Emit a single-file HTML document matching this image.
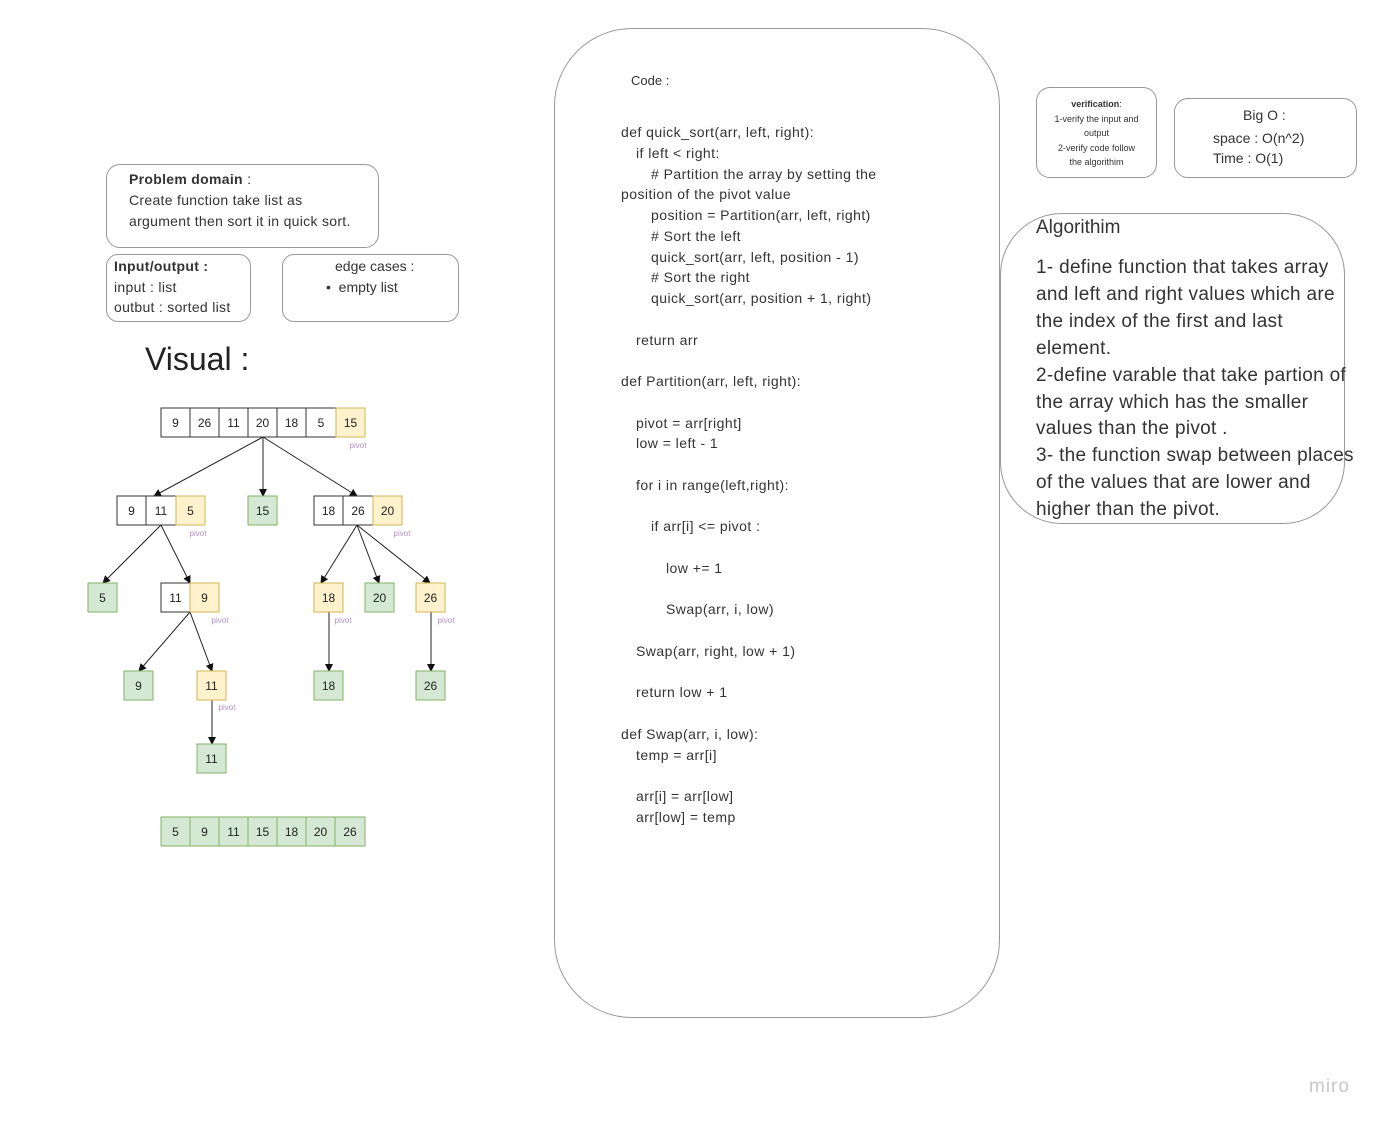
<!DOCTYPE html>
<html><head><meta charset="utf-8"><style>
body{margin:0;width:1385px;height:1127px;background:#fff;position:relative;overflow:hidden;font-family:"Liberation Sans","DejaVu Sans",sans-serif;color:#333}
.b{position:absolute;border:1px solid #999;box-sizing:border-box}
.t{position:absolute;white-space:nowrap}
.code div{height:20.75px;line-height:20.75px;white-space:nowrap;font-size:14px;color:#333;letter-spacing:0.45px}
.i1{padding-left:15px}.i2{padding-left:30px}.i3{padding-left:45px}
</style></head><body>

<div class="b" style="left:106px;top:164px;width:273px;height:84px;border-radius:14px"></div>
<div class="t" style="left:129px;top:169px;font-size:14px;line-height:21px;letter-spacing:0.3px"><b>Problem domain</b> :<br>Create function take list as<br>argument then sort it in quick sort.</div>

<div class="b" style="left:106px;top:254px;width:145px;height:68px;border-radius:12px"></div>
<div class="t" style="left:114px;top:256px;font-size:14px;line-height:20.5px;letter-spacing:0.3px"><b>Input/output :</b><br>input : list<br>outbut : sorted list</div>

<div class="b" style="left:282px;top:254px;width:177px;height:68px;border-radius:12px"></div>
<div class="t" style="left:335px;top:256px;font-size:14px;line-height:20.5px">edge cases :</div>
<div class="t" style="left:326px;top:277px;font-size:14px;line-height:20.5px">•&nbsp;&nbsp;empty list</div>

<div class="t" style="left:145px;top:339px;font-size:32px;line-height:40px;color:#222">Visual :</div>

<svg style="position:absolute;left:0;top:0" width="1385" height="1127" font-family="Liberation Sans, sans-serif">
<defs><marker id="a" markerWidth="8" markerHeight="8" refX="7" refY="4" orient="auto" markerUnits="userSpaceOnUse"><path d="M0,0 L8,4 L0,8 Z" fill="#111"/></marker></defs>
<g stroke="#222" stroke-width="1" marker-end="url(#a)">
<line x1="263" y1="437" x2="154" y2="496"/><line x1="263" y1="437" x2="263" y2="496"/><line x1="263" y1="437" x2="357" y2="496"/>
<line x1="161" y1="525" x2="103" y2="583"/><line x1="161" y1="525" x2="190" y2="583"/>
<line x1="357" y1="525" x2="321" y2="583"/><line x1="357" y1="525" x2="379" y2="583"/><line x1="357" y1="525" x2="430" y2="583"/>
<line x1="190" y1="612" x2="139" y2="671"/><line x1="190" y1="612" x2="212" y2="671"/>
<line x1="329" y1="612" x2="329" y2="671"/><line x1="431" y1="612" x2="431" y2="671"/>
<line x1="212" y1="700" x2="212" y2="744"/>
</g>
<g font-size="12" text-anchor="middle" fill="#222">
<g fill="#fff" stroke="#333">
<rect x="161" y="408" width="29" height="29"/><rect x="190" y="408" width="29" height="29"/><rect x="219" y="408" width="29" height="29"/><rect x="248" y="408" width="29" height="29"/><rect x="277" y="408" width="29" height="29"/><rect x="306" y="408" width="30" height="29"/>
<rect x="117" y="496" width="29" height="29"/><rect x="146" y="496" width="30" height="29"/>
<rect x="314" y="496" width="29" height="29"/><rect x="343" y="496" width="30" height="29"/>
<rect x="161" y="583" width="29" height="29"/>
</g>
<g fill="#fff2cc" stroke="#d6b656">
<rect x="336" y="408" width="29" height="29"/><rect x="176" y="496" width="29" height="29"/><rect x="373" y="496" width="29" height="29"/>
<rect x="190" y="583" width="29" height="29"/><rect x="314" y="583" width="29" height="29"/><rect x="416" y="583" width="29" height="29"/>
<rect x="197" y="671" width="29" height="29"/>
</g>
<g fill="#d5e8d4" stroke="#82b366">
<rect x="248" y="496" width="29" height="29"/><rect x="88" y="583" width="29" height="29"/><rect x="365" y="583" width="29" height="29"/>
<rect x="124" y="671" width="29" height="29"/><rect x="314" y="671" width="29" height="29"/><rect x="416" y="671" width="29" height="29"/>
<rect x="197" y="744" width="29" height="29"/>
<rect x="161" y="817" width="29" height="29"/><rect x="190" y="817" width="29" height="29"/><rect x="219" y="817" width="29" height="29"/><rect x="248" y="817" width="29" height="29"/><rect x="277" y="817" width="29" height="29"/><rect x="306" y="817" width="29" height="29"/><rect x="335" y="817" width="30" height="29"/>
</g>
<text x="175.5" y="427">9</text><text x="204.5" y="427">26</text><text x="233.5" y="427">11</text><text x="262.5" y="427">20</text><text x="291.5" y="427">18</text><text x="321" y="427">5</text><text x="350.5" y="427">15</text>
<text x="131.5" y="515">9</text><text x="161" y="515">11</text><text x="190.5" y="515">5</text><text x="262.5" y="515">15</text><text x="328.5" y="515">18</text><text x="358" y="515">26</text><text x="387.5" y="515">20</text>
<text x="102.5" y="602">5</text><text x="175.5" y="602">11</text><text x="204.5" y="602">9</text><text x="328.5" y="602">18</text><text x="379.5" y="602">20</text><text x="430.5" y="602">26</text>
<text x="138.5" y="690">9</text><text x="211.5" y="690">11</text><text x="328.5" y="690">18</text><text x="430.5" y="690">26</text>
<text x="211.5" y="763">11</text>
<text x="175.5" y="836">5</text><text x="204.5" y="836">9</text><text x="233.5" y="836">11</text><text x="262.5" y="836">15</text><text x="291.5" y="836">18</text><text x="320.5" y="836">20</text><text x="350" y="836">26</text>
</g>
<g font-size="8" fill="#b38fc8" text-anchor="middle">
<text x="358" y="448">pivot</text><text x="198" y="536">pivot</text><text x="402" y="536">pivot</text>
<text x="220" y="623">pivot</text><text x="343" y="623">pivot</text><text x="446" y="623">pivot</text><text x="227" y="710">pivot</text>
</g>
</svg>

<div class="b" style="left:554px;top:28px;width:446px;height:990px;border-radius:78px"></div>
<div class="t" style="left:631px;top:73px;font-size:13px">Code :</div>
<div class="code" style="position:absolute;left:621px;top:122px">
<div>def quick_sort(arr, left, right):</div>
<div class="i1">if left &lt; right:</div>
<div class="i2"># Partition the array by setting the</div>
<div>position of the pivot value</div>
<div class="i2">position = Partition(arr, left, right)</div>
<div class="i2"># Sort the left</div>
<div class="i2">quick_sort(arr, left, position - 1)</div>
<div class="i2"># Sort the right</div>
<div class="i2">quick_sort(arr, position + 1, right)</div>
<div>&nbsp;</div>
<div class="i1">return arr</div>
<div>&nbsp;</div>
<div>def Partition(arr, left, right):</div>
<div>&nbsp;</div>
<div class="i1">pivot = arr[right]</div>
<div class="i1">low = left - 1</div>
<div>&nbsp;</div>
<div class="i1">for i in range(left,right):</div>
<div>&nbsp;</div>
<div class="i2">if arr[i] &lt;= pivot :</div>
<div>&nbsp;</div>
<div class="i3">low += 1</div>
<div>&nbsp;</div>
<div class="i3">Swap(arr, i, low)</div>
<div>&nbsp;</div>
<div class="i1">Swap(arr, right, low + 1)</div>
<div>&nbsp;</div>
<div class="i1">return low + 1</div>
<div>&nbsp;</div>
<div>def Swap(arr, i, low):</div>
<div class="i1">temp = arr[i]</div>
<div>&nbsp;</div>
<div class="i1">arr[i] = arr[low]</div>
<div class="i1">arr[low] = temp</div>
</div>

<div class="b" style="left:1036px;top:87px;width:121px;height:91px;border-radius:14px"></div>
<div class="t" style="left:1036px;top:97px;width:121px;text-align:center;font-size:9px;line-height:14.5px"><b>verification</b>:<br>1-verify the input and<br>output<br>2-verify code follow<br>the algorithim</div>

<div class="b" style="left:1174px;top:98px;width:183px;height:80px;border-radius:14px"></div>
<div class="t" style="left:1243px;top:105px;font-size:14px;line-height:20px">Big O :</div>
<div class="t" style="left:1213px;top:128px;font-size:14px;line-height:20px">space : O(n^2)<br>Time : O(1)</div>

<div class="b" style="left:1000px;top:213px;width:345px;height:311px;border-radius:62px"></div>
<div class="t" style="left:1036px;top:214px;font-size:19px;line-height:27px;color:#333">Algorithim</div>
<div class="t" style="left:1036px;top:255px;font-size:19px;line-height:26.9px;color:#333;letter-spacing:0.3px">1- define function that takes array<br>and left and right values which are<br>the index of the first and last<br>element.<br>2-define varable that take partion of<br>the array which has the smaller<br>values than the pivot .<br>3- the function swap between places<br>of the values that are lower and<br>higher than the pivot.</div>

<div class="t" style="left:1309px;top:1076px;font-size:19px;color:#c8c8cc;letter-spacing:1px">miro</div>
</body></html>
